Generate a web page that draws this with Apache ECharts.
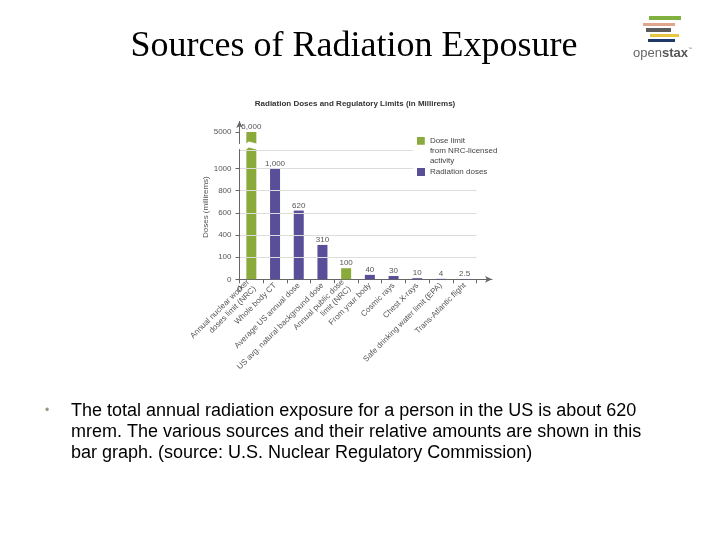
<!DOCTYPE html>
<html>
<head>
<meta charset="utf-8">
<script src="https://cdn.jsdelivr.net/npm/echarts@6/dist/echarts.min.js"></script>
<style>html,body{margin:0;padding:0;background:#fff;}#c{width:720px;height:540px;}</style>
</head>
<body>
<div id="c"></div>
<script>
const categories = [
  'Annual nuclear worker\ndoses limit (NRC)',
  'Whole body CT',
  'Average US annual dose',
  'US avg. natural background dose',
  'Annual public dose\nlimit (NRC)',
  'From your body',
  'Cosmic rays',
  'Chest X-rays',
  'Safe drinking water limit (EPA)',
  'Trans-Atlantic flight'
];
const doseLimit = [5000, '-', '-', '-', 100, '-', '-', '-', '-', '-'];
const radiationDoses = ['-', 1000, 620, 310, '-', 40, 30, 10, 4, 2.5];
const yTickValues = [0, 200, 400, 600, 800, 1000, 5000];
const yTickLabels = ['0', '100', '400', '600', '800', '1000', '5000'];
const gridValues = [200, 400, 600, 800, 1000, 1160];
const bodyLines = [
  'The total annual radiation exposure for a person in the US is about 620',
  'mrem. The various sources and their relative amounts are shown in this',
  'bar graph. (source: U.S. Nuclear Regulatory Commission)'
];

const FONT = 'Liberation Sans, Arial, sans-serif';
const GREEN = '#8aab3c';
const PURPLE = '#584f98';
const TXT = '#555';

const chart = echarts.init(document.getElementById('c'), null, {renderer: 'canvas'});

const barLabel = {
  show: true, position: 'top', distance: 1, color: TXT, fontSize: 8, fontFamily: FONT,
  formatter: p => (p.value >= 1000 ? p.value.toLocaleString('en-US') : String(p.value))
};

const graphics = [];
// body text
graphics.push({type: 'text', x: 47, y: 411, style: {text: '•', fontSize: 12, fill: '#8f9a86', fontFamily: FONT, align: 'center', verticalAlign: 'middle'}});
bodyLines.forEach((t, i) => {
  graphics.push({type: 'text', x: 71, y: 411 + i * 21, style: {text: t, fontSize: 18, fill: '#000', fontFamily: FONT, verticalAlign: 'middle'}});
});
// logo
const logoBars = [
  [649, 16, 32, 4, '#7fb040'],
  [643, 23, 32, 3, '#e0a58a'],
  [646, 28, 25, 4, '#5c5c5c'],
  [650, 34, 29, 3, '#e8c840'],
  [648, 39, 27, 3, '#1f3a66']
];
logoBars.forEach(b => graphics.push({type: 'rect', shape: {x: b[0], y: b[1], width: b[2], height: b[3]}, style: {fill: b[4]}}));
graphics.push({type: 'text', x: 633, y: 53, style: {
  text: '{a|open}{b|stax}{c|™}', verticalAlign: 'middle', fontFamily: FONT,
  rich: {a: {fontSize: 13, fill: '#666', fontFamily: FONT}, b: {fontSize: 13, fill: '#555', fontWeight: 'bold', fontFamily: FONT}, c: {fontSize: 4, fill: '#777', fontFamily: FONT, verticalAlign: 'top'}}
}});
// slide title
graphics.push({type: 'text', x: 354, y: 47, style: {text: 'Sources of Radiation Exposure', fontSize: 36, fill: '#000', fontFamily: 'Liberation Serif, Times New Roman, serif', align: 'center', verticalAlign: 'middle'}});

const option = {
  backgroundColor: '#fff',
  animation: false,
  title: {
    text: 'Radiation Doses and Regulatory Limits (in Millirems)',
    left: 355, top: 100, textAlign: 'center', padding: 0,
    textStyle: {fontSize: 8, fontWeight: 'bold', color: '#333', fontFamily: FONT}
  },
  graphic: graphics,
  legend: [
    {
      data: ['Dose limit from NRC-licensed activity'],
      left: 413, top: 134, orient: 'vertical', padding: [2, 4, 2, 4], backgroundColor: '#fff',
      itemWidth: 8, itemHeight: 28, itemGap: 4, z: 10,
      icon: 'path://M0,0h10v10h-10zM0,36h0.01v0.01h-0.01z',
      formatter: () => 'Dose limit\nfrom NRC-licensed\nactivity',
      textStyle: {fontSize: 8, color: '#444', fontFamily: FONT, lineHeight: 10}
    },
    {
      data: ['Radiation doses'],
      left: 413, top: 166, orient: 'vertical', padding: [2, 4, 2, 4], backgroundColor: '#fff',
      itemWidth: 8, itemHeight: 8, icon: 'rect', z: 10,
      textStyle: {fontSize: 8, color: '#444', fontFamily: FONT}
    }
  ],
  grid: [
    {left: 239.5, width: 237, top: 121, height: 158.3},
    {left: 239.5, width: 252.5, top: 121, height: 158.3}
  ],
  xAxis: [
    {
      type: 'category', gridIndex: 0, data: categories,
      axisLine: {show: false},
      axisTick: {show: true, length: 4, lineStyle: {color: '#666'}},
      axisLabel: {interval: 0, rotate: 45, fontSize: 8, color: TXT, fontFamily: FONT, margin: 5, lineHeight: 9.5}
    },
    {
      type: 'value', gridIndex: 1, min: 0, max: 1,
      axisLine: {show: true, symbol: ['none', 'arrow'], symbolSize: [5, 7], lineStyle: {color: '#666', width: 1}},
      axisTick: {show: false},
      splitLine: {show: false},
      axisLabel: {show: true, fontSize: 9, color: TXT, fontFamily: FONT, margin: 6, formatter: v => (v === 0 ? '0' : '')}
    }
  ],
  yAxis: [
    {
      type: 'value', gridIndex: 0, min: 0, max: 5100, interval: 200, z: 5,
      breaks: [{start: 1170, end: 4896, gap: 54}],
      breakArea: {show: true, expandOnClick: false, zigzagAmplitude: 2, zigzagZ: 3,
        itemStyle: {color: '#fff', borderColor: '#fff', borderWidth: 0, opacity: 1}},
      name: 'Doses (millirems)', nameLocation: 'middle', nameGap: 30,
      nameTextStyle: {fontSize: 8, color: TXT, fontFamily: FONT, padding: [0, 0, 0, -14]},
      axisLine: {show: true, symbol: ['none', 'arrow'], symbolSize: [5, 7], lineStyle: {color: '#666', width: 1}},
      axisTick: {show: true, length: 4, customValues: yTickValues, lineStyle: {color: '#666'}},
      axisLabel: {
        customValues: yTickValues, fontSize: 8, color: TXT, fontFamily: FONT, margin: 8,
        formatter: v => { const i = yTickValues.indexOf(v); return i >= 0 ? yTickLabels[i] : ''; }
      },
      splitLine: {show: false}
    },
    {type: 'value', gridIndex: 1, show: false, min: 0, max: 1}
  ],
  series: [
    {
      type: 'line', xAxisIndex: 0, yAxisIndex: 0, data: [], z: 1, silent: true,
      markLine: {silent: true, symbol: 'none', label: {show: false},
        lineStyle: {color: '#dcdcdc', type: 'solid', width: 1},
        data: gridValues.map(v => ({yAxis: v}))}
    },
    {
      name: 'Dose limit from NRC-licensed activity', type: 'bar', xAxisIndex: 0, yAxisIndex: 0,
      data: doseLimit, barWidth: 10, barGap: '-100%', itemStyle: {color: GREEN}, label: barLabel, z: 2
    },
    {
      name: 'Radiation doses', type: 'bar', xAxisIndex: 0, yAxisIndex: 0,
      data: radiationDoses, barWidth: 10, barGap: '-100%', itemStyle: {color: PURPLE}, label: barLabel, z: 2
    }
  ]
};
chart.setOption(option);
</script>
</body>
</html>
